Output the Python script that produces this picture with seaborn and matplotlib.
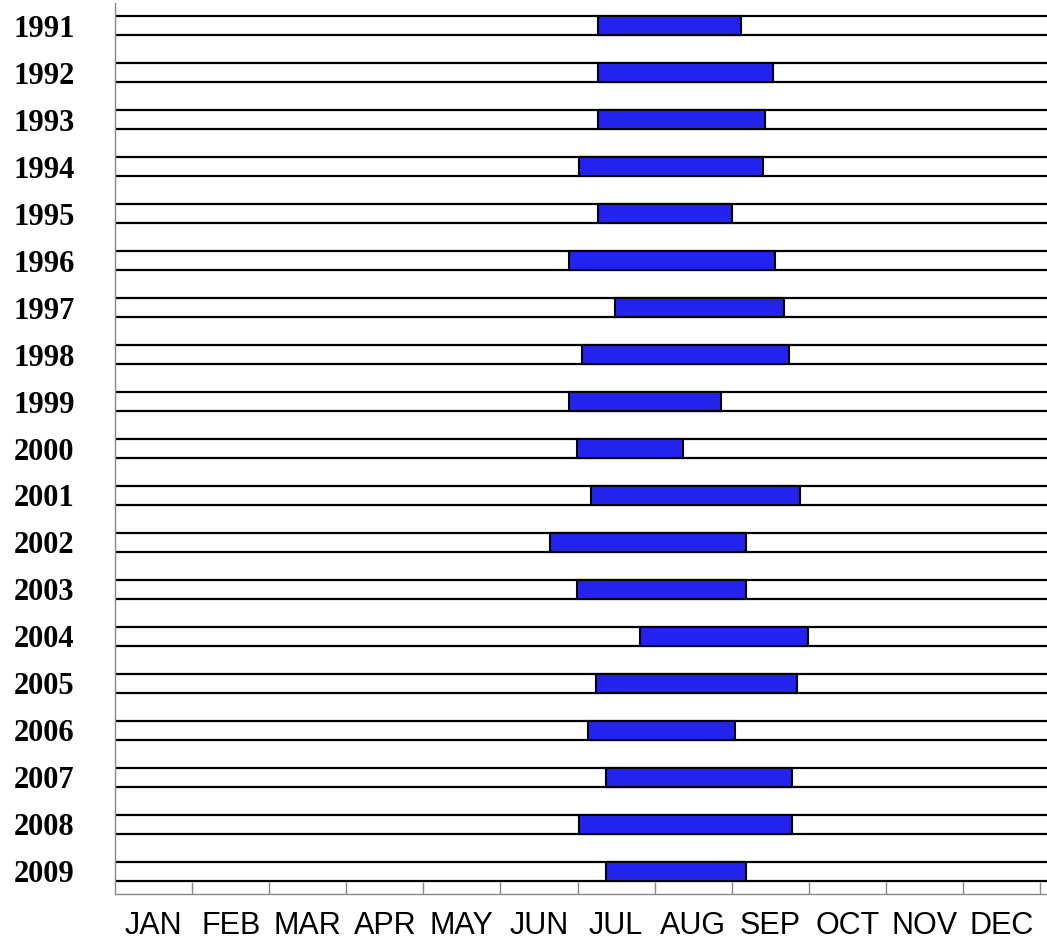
import numpy as np
import pandas as pd
import seaborn as sns
import matplotlib.pyplot as plt

years = ['1991', '1992', '1993', '1994', '1995', '1996', '1997', '1998', '1999', '2000',
         '2001', '2002', '2003', '2004', '2005', '2006', '2007', '2008', '2009']
# season start / end, in months counted from 1 Jan (0 = 1 Jan, 12 = end of Dec)
start = [6.26, 6.26, 6.26, 6.02, 6.26, 5.89, 6.49, 6.06, 5.89, 5.99,
         6.17, 5.64, 5.99, 6.81, 6.24, 6.13, 6.37, 6.02, 6.37]
end = [8.12, 8.53, 8.43, 8.40, 8.00, 8.56, 8.68, 8.74, 7.86, 7.37,
       8.88, 8.18, 8.18, 8.99, 8.85, 8.04, 8.78, 8.78, 8.18]
months = ['JAN', 'FEB', 'MAR', 'APR', 'MAY', 'JUN', 'JUL', 'AUG', 'SEP', 'OCT', 'NOV', 'DEC']

df = pd.DataFrame({'year': years, 'start': start, 'end': end})
df['length'] = df['end'] - df['start']

sns.set_style('white')

fig = plt.figure(figsize=(10.47, 9.43), dpi=100)
ax = fig.add_axes([115 / 1047, 1 - 894 / 943, 1 - 115 / 1047, 891 / 943])

band = 0.404
rows = np.arange(len(years))
# the two black lines framing each year's row
ax.hlines(np.concatenate([rows - band / 2, rows + band / 2]), 0, 1,
          transform=ax.get_yaxis_transform(), color='black', lw=1.6, zorder=1)

sns.barplot(data=df, x='length', y='year', order=years, left=df['start'].to_numpy(),
            width=band, color='#2323ee', saturation=1, edgecolor='black',
            linewidth=1.5, errorbar=None, ax=ax, zorder=2)

ax.set_ylim(len(years) - 1 + 0.48, -0.48)
ax.set_xlim(0, 12.09)
ax.set_xlabel('')
ax.set_ylabel('')

ax.set_xticks(range(1, 13))
ax.set_xticklabels([])
ax.set_xticks(np.arange(12) + 0.5, minor=True)
ax.set_xticklabels(months, minor=True, family='Liberation Sans', fontsize=22)
ax.tick_params(axis='x', which='major', bottom=True, direction='in', length=9,
               width=1, color='#888888')
ax.tick_params(axis='x', which='minor', bottom=True, length=0, pad=12, labelcolor='black')

ax.tick_params(axis='y', length=0, pad=29, labelcolor='black')
for lab in ax.get_yticklabels():
    lab.set_family('Liberation Serif')
    lab.set_weight('bold')
    lab.set_fontsize(22)

for side in ['top', 'right']:
    ax.spines[side].set_visible(False)
for side in ['left', 'bottom']:
    ax.spines[side].set_color('#888888')
    ax.spines[side].set_linewidth(1)

plt.savefig('out.png', dpi=100)
